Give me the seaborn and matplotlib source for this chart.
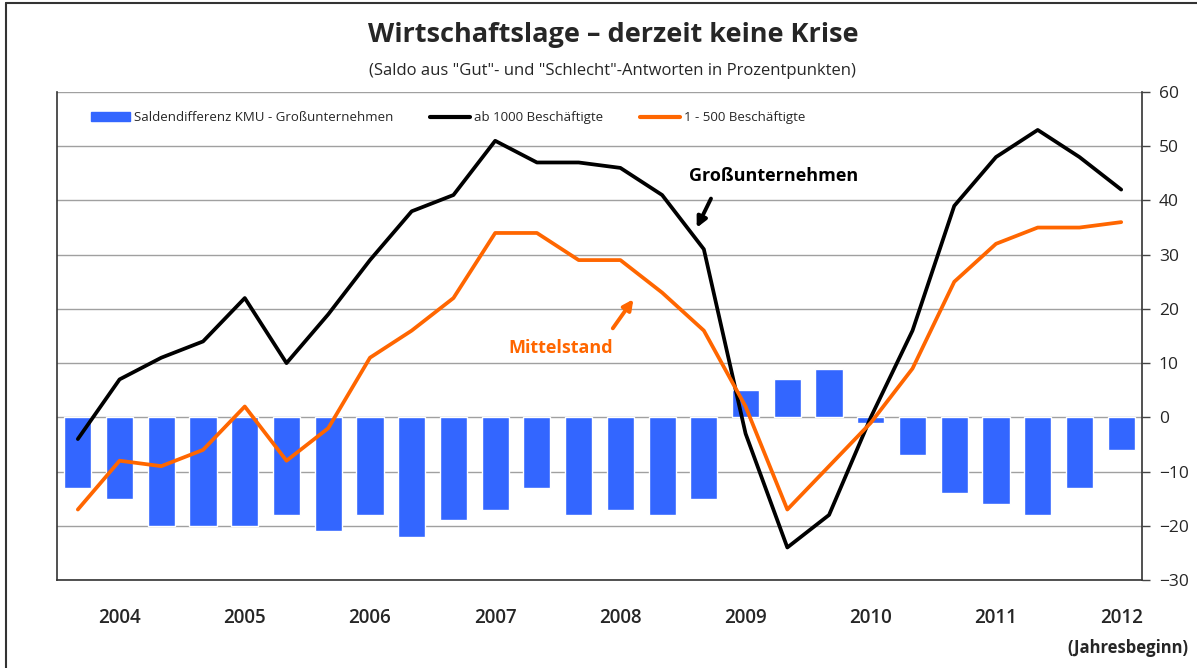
import numpy as np
import pandas as pd
import matplotlib
matplotlib.use('Agg')
import matplotlib.pyplot as plt
import seaborn as sns
from matplotlib.lines import Line2D
from matplotlib.patches import Patch

# Daten (Saldo in Prozentpunkten, 3 Werte pro Jahr)
gross = [-4, 7, 11, 14, 22, 10, 19, 29, 38, 41, 51, 47, 47, 46, 41, 31,
         -3, -24, -18, 0, 16, 39, 48, 53, 48, 42]
mittel = [-17, -8, -9, -6, 2, -8, -2, 11, 16, 22, 34, 34, 29, 29, 23, 16,
          2, -17, -9, -1, 9, 25, 32, 35, 35, 36]
differenz = [-13, -15, -20, -20, -20, -18, -21, -18, -22, -19, -17, -13, -18,
             -17, -18, -15, 5, 7, 9, -1, -7, -14, -16, -18, -13, -6]
jahre = ['2004', '2005', '2006', '2007', '2008', '2009', '2010', '2011', '2012']
jahr_idx = [1, 4, 7, 10, 13, 16, 19, 22, 25]

df = pd.DataFrame({'idx': np.arange(len(gross)), 'gross': gross,
                   'mittel': mittel, 'diff': differenz})

sns.set_style('white')
plt.rcParams['font.family'] = ['Open Sans', 'DejaVu Sans']

blue = '#3366FF'
orange = '#FF6600'

fig = plt.figure(figsize=(11.97, 6.68), dpi=100)
ax = fig.add_axes([0.0476, 0.1317, 0.9065, 0.7306])

sns.barplot(data=df, x='idx', y='diff', color=blue, width=0.65,
            saturation=1, ax=ax, zorder=2)
ax.plot(df['idx'], df['gross'], color='black', lw=2.7, zorder=3,
        solid_capstyle='round')
ax.plot(df['idx'], df['mittel'], color=orange, lw=2.7, zorder=3,
        solid_capstyle='round')

ax.set_xlim(-0.5, len(gross) - 0.5)
ax.set_ylim(-30, 60)
ax.set_yticks(range(-30, 61, 10))
ax.yaxis.tick_right()
ax.tick_params(axis='y', direction='out', length=6, width=1, color='#444444',
               labelsize=12.5, pad=6)
ax.set_xticks(jahr_idx)
ax.set_xticklabels(jahre, fontsize=13.5, fontweight='semibold')
ax.tick_params(axis='x', length=0, pad=20)
ax.set_xlabel('')
ax.set_ylabel('')
ax.grid(axis='y', color='#a0a0a0', lw=1, zorder=0)
ax.set_axisbelow(True)
for s in ['left', 'bottom', 'right']:
    ax.spines[s].set_color('#333333')
    ax.spines[s].set_linewidth(1.2)
ax.spines['top'].set_visible(False)

# Legende
handles = [Patch(color=blue), Line2D([], [], color='black', lw=3),
           Line2D([], [], color=orange, lw=3)]
labels = ['Saldendifferenz KMU - Großunternehmen', 'ab 1000 Beschäftigte',
          '1 - 500 Beschäftigte']
ax.legend(handles, labels, ncol=3, loc='upper left', bbox_to_anchor=(0.02, 0.985),
          frameon=False, fontsize=9.5, handlelength=3.0, handletextpad=0.3,
          columnspacing=2.8)

# Beschriftungen
ax.text(16.67, 44.5, 'Großunternehmen', fontsize=13, fontweight='bold',
        ha='center', va='center', color='black')
ax.annotate('', xy=(14.8, 34.5), xytext=(15.2, 40.8),
            arrowprops=dict(arrowstyle='-|>', color='black', lw=2.8,
                            mutation_scale=15))
ax.text(11.56, 12.7, 'Mittelstand', fontsize=13, fontweight='bold',
        ha='center', va='center', color=orange)
ax.annotate('', xy=(13.35, 22.2), xytext=(12.78, 16.0),
            arrowprops=dict(arrowstyle='-|>', color=orange, lw=2.8,
                            mutation_scale=15))

fig.text(0.512, 0.947, 'Wirtschaftslage – derzeit keine Krise', fontsize=19.5,
         fontweight='bold', ha='center', va='center')
fig.text(0.512, 0.893, '(Saldo aus "Gut"- und "Schlecht"-Antworten in Prozentpunkten)',
         fontsize=12, ha='center', va='center')
fig.text(0.993, 0.030, '(Jahresbeginn)', fontsize=12, fontweight='bold',
         ha='right', va='center')

# Rahmen
fig.add_artist(Line2D([0.005, 0.005], [0, 0.996], color='#333333', lw=1.5,
                      transform=fig.transFigure))
fig.add_artist(Line2D([0.005, 1], [0.996, 0.996], color='#333333', lw=1.5,
                      transform=fig.transFigure))

fig.savefig('out.png', dpi=100)
